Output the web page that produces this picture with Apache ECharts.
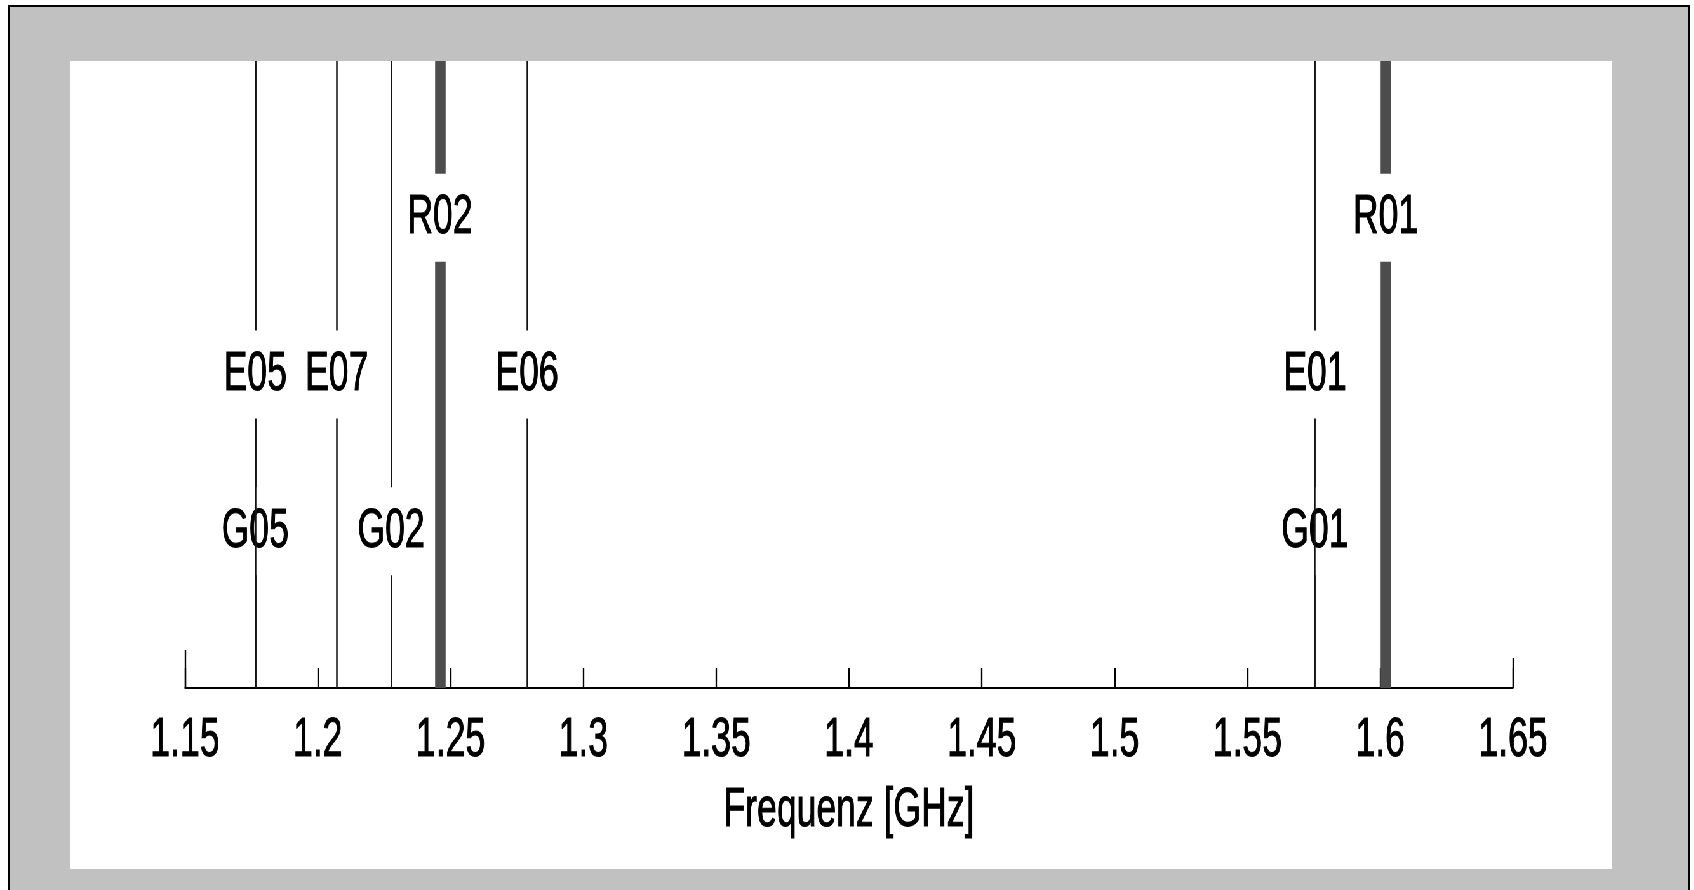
<!DOCTYPE html>
<html>
<head>
<meta charset="utf-8">
<title>Frequenzbänder GNSS</title>
<script src="https://cdn.jsdelivr.net/npm/echarts@6/dist/echarts.min.js"></script>
<style>
  html, body { margin: 0; padding: 0; background: #fff; overflow: hidden; width: 1694px; height: 890px; }
  #frame { position: absolute; left: 8px; top: 5px; width: 1682px; height: 900px; box-sizing: border-box;
           border: 2px solid #000; background: #c1c1c1; }
  #panel { position: absolute; left: 70px; top: 61px; width: 1542px; height: 808px; background: #fff; }
  #chart { position: absolute; left: 0; top: 0; height: 890px; transform-origin: 0 0; }
</style>
</head>
<body>
<div id="frame"></div>
<div id="panel"></div>
<div id="chart"></div>
<script>
// Signal carrier frequencies in GHz, grouped by constellation
const galileoNames = ['E05', 'E07', 'E06', 'E01'];
const galileoFreqs = [1.17645, 1.20714, 1.27875, 1.57542];
const gpsNames = ['G05', 'G02', 'G01'];
const gpsFreqs = [1.17645, 1.2276, 1.57542];
const glonassNames = ['R02', 'R01'];
const glonassFreqs = [1.246, 1.602];

// Label rows on the hidden 0..1 vertical scale
const gpsRow = 0.25;
const galileoRow = 0.5;
const glonassRow = 0.75;

// Frequency axis
const axisMin = 1.15;
const axisMax = 1.65;
const axisStep = 0.05;
const axisTitle = 'Frequenz [GHz]';

// Text is drawn in a condensed face: the chart is laid out wide and squeezed horizontally
const SX = 0.635;
const FONT = '"Liberation Sans", Arial, sans-serif';
const FS = 56;
const TEXT = {
  fontFamily: FONT,
  fontSize: FS,
  color: '#000',
  textBorderColor: '#000',
  textBorderWidth: 1
};

const el = document.getElementById('chart');
el.style.width = (1694 / SX) + 'px';
el.style.transform = 'scaleX(' + SX + ')';

const chart = echarts.init(el, null, { renderer: 'canvas' });

function group(freqs, names, row, z, width, color) {
  return [
    {
      type: 'lines',
      coordinateSystem: 'cartesian2d',
      z: z,
      silent: true,
      polyline: false,
      lineStyle: { color: color, width: width / SX, opacity: 1, curveness: 0 },
      data: freqs.map(f => ({ coords: [[f, 0], [f, 1]] }))
    },
    {
      type: 'scatter',
      z: z + 1,
      silent: true,
      symbolSize: 1,
      itemStyle: { color: 'rgba(0,0,0,0)', opacity: 1 },
      data: freqs.map((f, i) => ({ value: [f, row], name: names[i] })),
      label: Object.assign({
        show: true,
        position: 'inside',
        formatter: '{b}',
        lineHeight: FS,
        opacity: 1,
        backgroundColor: '#fff',
        padding: [20, 5, 12, 5]
      }, TEXT)
    }
  ];
}

// Short end stubs of the frequency axis (fraction of plot height)
const endStubs = [
  { coords: [[axisMin, 0], [axisMin, 38 / 627]] },
  { coords: [[axisMax, 0], [axisMax, 30 / 627]] }
];

const option = {
  animation: false,
  backgroundColor: 'transparent',
  grid: {
    left: 185 / SX,
    width: (1513 - 185) / SX,
    top: 61,
    height: 627,
    containLabel: false
  },
  xAxis: {
    type: 'value',
    min: axisMin,
    max: axisMax,
    interval: axisStep,
    splitLine: { show: false },
    axisLine: { show: true, onZero: false, lineStyle: { color: '#000', width: 2 } },
    axisTick: { show: true, inside: true, length: 20, lineStyle: { color: '#000', width: 1.5 / SX } },
    axisLabel: Object.assign({
      show: true,
      margin: 25,
      formatter: v => String(+v.toFixed(2))
    }, TEXT),
    name: axisTitle,
    nameLocation: 'middle',
    nameGap: 95,
    nameTextStyle: TEXT
  },
  yAxis: { type: 'value', min: 0, max: 1, show: false },
  series: [
    {
      type: 'lines',
      coordinateSystem: 'cartesian2d',
      z: 1,
      silent: true,
      lineStyle: { color: '#000', width: 1.5 / SX, opacity: 1 },
      data: endStubs
    },
    ...group(gpsFreqs, gpsNames, gpsRow, 2, 1.6, '#141414'),
    ...group(galileoFreqs, galileoNames, galileoRow, 4, 1.6, '#141414'),
    ...group(glonassFreqs, glonassNames, glonassRow, 6, 10.5, '#4d4d4d')
  ]
};

chart.setOption(option);
</script>
</body>
</html>
